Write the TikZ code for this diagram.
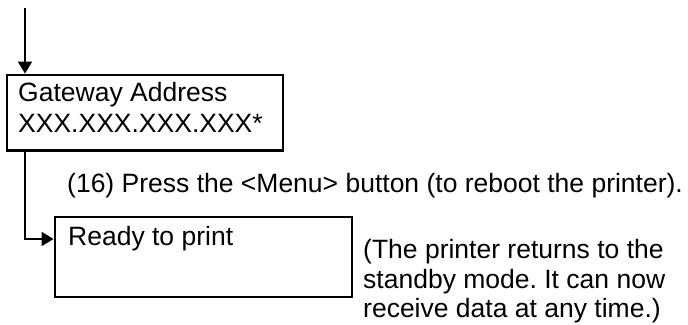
\documentclass[tikz,border=0pt]{standalone}
\usepackage{fontspec}
\setmainfont{Liberation Sans}
\frenchspacing
\usetikzlibrary{arrows.meta}
\begin{document}
\begin{tikzpicture}[x=1pt,y=-1pt,
  screen/.style={draw,line width=2.8pt,inner sep=0pt},
  flow/.style={line width=1.8pt,-{Triangle[width=14pt,length=12pt]}},
  txt/.style={anchor=base west,inner sep=0pt,font=\fontsize{26.5}{30}\selectfont}]
\useasboundingbox (0,0) rectangle (688,324);
\node[screen,minimum width=276pt,minimum height=75.5pt] (gw) at (145,112.75) {};
\node[txt] (gwname) at (18,101) {Gateway Address};
\node[txt] (gwaddr) at (18,132) {XXX.XXX.XXX.XXX*};
\node[txt] (press) at (67,192) {(16) Press the <Menu> button (to reboot the printer).};
\node[screen,minimum width=297pt,minimum height=80pt] (ready) at (203.5,257) {};
\node[txt] (readytext) at (68,245) {Ready to print};
\node[txt] (note1) at (363,258) {(The printer returns to the};
\node[txt] (note2) at (363,288) {standby mode. It can now};
\node[txt] (note3) at (363,317) {receive data at any time.)};
\coordinate (start) at (25,8);
\coordinate (bend) at (25,239);
\draw[flow] (start) -- (start |- gw.north);
\draw[flow] (start |- gw.south) -- (bend) -- (bend -| ready.west);
\end{tikzpicture}
\end{document}
